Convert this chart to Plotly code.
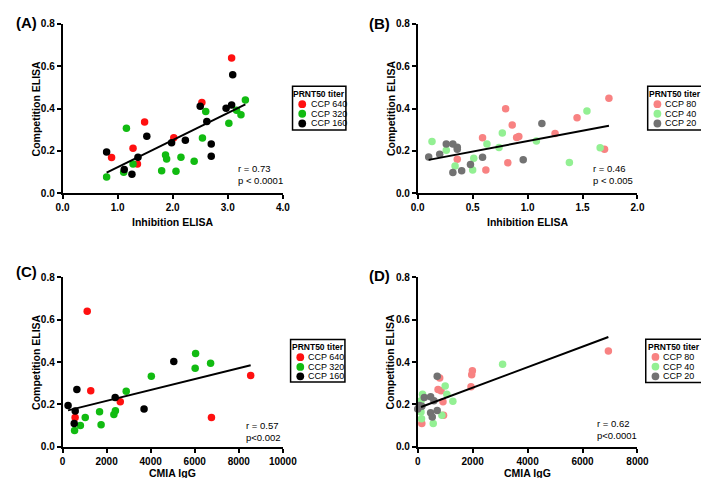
import plotly.graph_objects as go

W, H = 709, 478
FONT = "Liberation Sans"

# ---------------- DATA ----------------
groups_A = ["CCP 640", "CCP 320", "CCP 160"]
groups_B = ["CCP 80", "CCP 40", "CCP 20"]

# Panel A: Inhibition ELISA vs Competition ELISA (high titers)
A640_x = [0.89, 1.28, 1.36, 1.49, 2.02, 2.53, 3.07]
A640_y = [0.169, 0.213, 0.138, 0.337, 0.262, 0.429, 0.639]
A320_x = [0.80, 1.11, 1.16, 1.28, 1.80, 1.87, 1.89, 2.06, 2.15, 2.39, 2.54, 2.60, 3.02, 3.16, 3.24, 3.32]
A320_y = [0.077, 0.100, 0.307, 0.138, 0.107, 0.181, 0.162, 0.104, 0.170, 0.152, 0.261, 0.386, 0.331, 0.392, 0.371, 0.440]
A160_x = [0.80, 1.12, 1.26, 1.37, 1.53, 1.98, 2.23, 2.50, 2.62, 2.70, 2.70, 2.97, 3.07, 3.09]
A160_y = [0.195, 0.113, 0.090, 0.170, 0.270, 0.239, 0.250, 0.411, 0.339, 0.233, 0.175, 0.402, 0.417, 0.559]
fitA_x = [0.80, 3.32]
fitA_y = [0.098, 0.420]

# Panel B: Inhibition ELISA vs Competition ELISA (low titers)
B80_x = [0.36, 0.59, 0.62, 0.82, 0.80, 0.86, 0.90, 0.92, 1.25, 1.45, 1.70, 1.74]
B80_y = [0.161, 0.262, 0.110, 0.144, 0.399, 0.322, 0.264, 0.268, 0.282, 0.357, 0.208, 0.449]
B40_x = [0.13, 0.26, 0.34, 0.51, 0.50, 0.63, 0.74, 0.77, 1.08, 1.38, 1.54, 1.66]
B40_y = [0.245, 0.204, 0.129, 0.166, 0.110, 0.233, 0.216, 0.285, 0.247, 0.146, 0.388, 0.215]
B20_x = [0.10, 0.20, 0.26, 0.32, 0.36, 0.36, 0.32, 0.40, 0.48, 0.59, 0.96, 1.13]
B20_y = [0.172, 0.184, 0.233, 0.233, 0.218, 0.208, 0.098, 0.107, 0.136, 0.170, 0.159, 0.330]
fitB_x = [0.10, 1.74]
fitB_y = [0.158, 0.319]

# Panel C: CMIA IgG vs Competition ELISA (high titers)
C640_x = [1120, 1280, 570, 2620, 6760, 8540]
C640_y = [0.639, 0.264, 0.138, 0.213, 0.139, 0.337]
C320_x = [545, 810, 1030, 1680, 1750, 2330, 2400, 2890, 4030, 6020, 6040, 6720]
C320_y = [0.077, 0.101, 0.138, 0.166, 0.104, 0.152, 0.170, 0.262, 0.333, 0.371, 0.440, 0.394]
C160_x = [250, 530, 575, 650, 2390, 3700, 5050]
C160_y = [0.195, 0.110, 0.169, 0.271, 0.233, 0.178, 0.403]
fitC_x = [250, 8540]
fitC_y = [0.172, 0.385]

# Panel D: CMIA IgG vs Competition ELISA (low titers)
D80_x = [6940, 1990, 1965, 1940, 800, 740, 850, 920, 940, 150]
D80_y = [0.452, 0.359, 0.340, 0.284, 0.325, 0.271, 0.264, 0.213, 0.149, 0.110]
D40_x = [3090, 1000, 1060, 1280, 175, 120, 140, 880, 565, 120]
D40_y = [0.389, 0.287, 0.248, 0.215, 0.248, 0.164, 0.133, 0.149, 0.110, 0.218]
D20_x = [710, 240, 470, 590, 60, 0, 150, 470, 710, 530]
D20_y = [0.333, 0.233, 0.236, 0.218, 0.195, 0.179, 0.192, 0.161, 0.172, 0.141]
fitD_x = [120, 6940]
fitD_y = [0.188, 0.518]

r_texts = ["r = 0.73<br>p < 0.0001", "r = 0.46<br>p < 0.005", "r = 0.57<br>p<0.002", "r = 0.62<br>p<0.0001"]
panel_labels = ["(A)", "(B)", "(C)", "(D)"]
x_titles = ["Inhibition ELISA", "Inhibition ELISA", "CMIA IgG", "CMIA IgG"]
y_title = "Competition ELISA"
legend_title = "PRNT50 titer"

colors_A = ["#ff1010", "#11bb11", "#000000"]
colors_B = ["#f88282", "#93f093", "#727272"]

# ---------------- LAYOUT HELPERS ----------------
def px_x(p):
    return p / W

def px_y(p):
    return 1 - p / H

# plot areas in pixels: (left, right, top, bottom)
areas = [(49, 276, 10, 184), (415, 641.5, 10, 184), (49, 276, 270, 444), (415, 641.5, 270, 444)]
x_ranges = [[0, 4], [0, 2], [0, 10000], [0, 8000]]
x_dticks = [1, 0.5, 2000, 2000]
x_formats = [".1f", ".1f", "d", "d"]
xtitle_y = [213.5, 213.5, 470.5, 470.5]
ytitle_x = [21.5, 387, 21.5, 387]

fig = go.Figure()

panels = [
    ([(A640_x, A640_y), (A320_x, A320_y), (A160_x, A160_y)], groups_A, colors_A, fitA_x, fitA_y),
    ([(B80_x, B80_y), (B40_x, B40_y), (B20_x, B20_y)], groups_B, colors_B, fitB_x, fitB_y),
    ([(C640_x, C640_y), (C320_x, C320_y), (C160_x, C160_y)], groups_A, colors_A, fitC_x, fitC_y),
    ([(D80_x, D80_y), (D40_x, D40_y), (D20_x, D20_y)], groups_B, colors_B, fitD_x, fitD_y),
]

for i, (series, names, cols, fx, fy) in enumerate(panels):
    sfx = "" if i == 0 else str(i + 1)
    for (xs, ys), nm, c in zip(series, names, cols):
        fig.add_trace(go.Scatter(x=xs, y=ys, mode="markers", name=nm, showlegend=False,
                                 marker=dict(size=7.5, color=c, line=dict(width=0)),
                                 xaxis="x" + sfx, yaxis="y" + sfx, cliponaxis=False))
    fig.add_trace(go.Scatter(x=fx, y=fy, mode="lines", showlegend=False,
                             line=dict(color="black", width=2),
                             xaxis="x" + sfx, yaxis="y" + sfx, cliponaxis=False))

layout = dict(width=W, height=H, margin=dict(l=0, r=0, t=0, b=0),
              paper_bgcolor="white", plot_bgcolor="white",
              font=dict(family=FONT, color="black"), showlegend=False)

axis_common = dict(showline=True, linecolor="black", linewidth=1.6, ticks="outside",
                   ticklen=4, tickwidth=1.6, tickcolor="black", showgrid=False, zeroline=False,
                   tickfont=dict(family=FONT, size=10, color="black", weight="bold"))

annotations = []
shapes = []
for i, (l, r, t, b) in enumerate(areas):
    sfx = "" if i == 0 else str(i + 1)
    layout["xaxis" + sfx] = dict(axis_common, domain=[px_x(l), px_x(r)], range=x_ranges[i],
                                  dtick=x_dticks[i], tick0=0, tickformat=x_formats[i],
                                  anchor="y" + sfx)
    layout["yaxis" + sfx] = dict(axis_common, domain=[px_y(b), px_y(t)], range=[0, 0.8],
                                  dtick=0.2, tick0=0, tickformat=".1f",
                                  anchor="x" + sfx)
    annotations.append(dict(text="<b>" + x_titles[i] + "</b>", x=px_x((l + r) / 2), y=px_y(xtitle_y[i]),
                            xref="paper", yref="paper", xanchor="center", yanchor="middle",
                            showarrow=False, font=dict(family=FONT, size=10.5, color="black")))
    annotations.append(dict(text="<b>" + y_title + "</b>", x=px_x(ytitle_x[i]), y=px_y((t + b) / 2),
                            xref="paper", yref="paper", xanchor="center", yanchor="middle",
                            textangle=-90, showarrow=False,
                            font=dict(family=FONT, size=10.5, color="black")))

# panel labels
label_pos = [(12, 9), (376, 10), (12, 264), (376, 268)]
for (lx, ly), lab in zip(label_pos, panel_labels):
    annotations.append(dict(text="<b>" + lab + "</b>", x=px_x(lx), y=px_y(ly), xref="paper", yref="paper",
                            xanchor="center", yanchor="middle", showarrow=False,
                            font=dict(family=FONT, size=15, color="black")))

# r / p texts
rp_pos = [(227.5, 165), (594, 165), (236, 428), (598, 426)]
for (rx, ry), txt in zip(rp_pos, r_texts):
    annotations.append(dict(text=txt, x=px_x(rx), y=px_y(ry), xref="paper", yref="paper",
                            xanchor="left", yanchor="middle", align="left", showarrow=False,
                            font=dict(family=FONT, size=9.5, color="black")))

# manual legends: box (l, r, t, b), title y, row ys, marker x, text x
legends = [
    ((286, 341, 74, 119), 82.5, [92.5, 102.3, 112.3], 296, 302.5, groups_A, colors_A),
    ((652, 708.5, 74, 119), 82.5, [92.5, 102.3, 112.3], 662, 668, groups_B, colors_B),
    ((284, 340, 334, 377.5), 341.5, [352, 362, 371.7], 294, 300, groups_A, colors_A),
    ((650, 708.5, 333.5, 378), 341.5, [351.8, 361.7, 371.7], 660, 666, groups_B, colors_B),
]
for (l, r, t, b), ty, rows, mx, tx, names, cols in legends:
    shapes.append(dict(type="rect", xref="paper", yref="paper", x0=px_x(l), x1=px_x(r),
                       y0=px_y(b), y1=px_y(t), line=dict(color="black", width=1.5),
                       fillcolor="white"))
    annotations.append(dict(text="<b>" + legend_title + "</b>", x=px_x((l + r) / 2), y=px_y(ty),
                            xref="paper", yref="paper", xanchor="center", yanchor="middle",
                            showarrow=False, font=dict(family=FONT, size=8.5, color="black")))
    for ry, nm, c in zip(rows, names, cols):
        rad = 4
        shapes.append(dict(type="circle", xref="paper", yref="paper",
                           x0=px_x(mx - rad), x1=px_x(mx + rad), y0=px_y(ry + rad), y1=px_y(ry - rad),
                           fillcolor=c, line=dict(width=0)))
        annotations.append(dict(text=nm, x=px_x(tx), y=px_y(ry), xref="paper", yref="paper",
                                xanchor="left", yanchor="middle", showarrow=False,
                                font=dict(family=FONT, size=9, color="black")))

layout["annotations"] = annotations
layout["shapes"] = shapes
fig.update_layout(**layout)
fig.write_html("out.html")
